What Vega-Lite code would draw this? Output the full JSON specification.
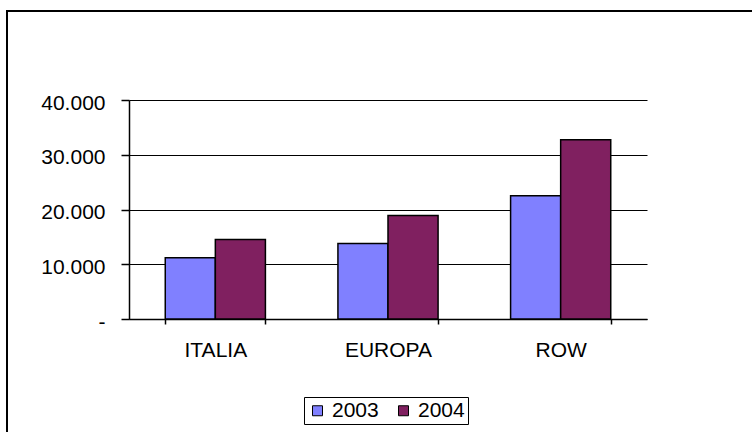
{
  "$schema": "https://vega.github.io/schema/vega-lite/v6.json",
  "width": 760,
  "height": 430,
  "autosize": "none",
  "padding": {"left": 7, "top": 11, "right": 0, "bottom": 0},
  "background": "white",
  "config": {
    "view": {"stroke": "black", "strokeWidth": 2, "fill": "white"},
    "font": "Liberation Sans"
  },
  "data": {
    "values": [
      {"region": "ITALIA", "year": "2003", "value": 11200},
      {"region": "ITALIA", "year": "2004", "value": 14500},
      {"region": "EUROPA", "year": "2003", "value": 13800},
      {"region": "EUROPA", "year": "2004", "value": 18900},
      {"region": "ROW", "year": "2003", "value": 22500},
      {"region": "ROW", "year": "2004", "value": 32750}
    ]
  },
  "mark": {"type": "bar", "stroke": "black", "strokeWidth": 1.5},
  "encoding": {
    "x": {
      "field": "region",
      "type": "nominal",
      "sort": ["ITALIA", "EUROPA", "ROW"],
      "scale": {"range": [122, 640], "paddingInner": 0.42, "paddingOuter": 0.21},
      "axis": {
        "title": null,
        "labelAngle": 0,
        "offset": -122,
        "tickBand": "extent",
        "tickSize": 5,
        "tickColor": "black",
        "tickWidth": 1.5,
        "domainColor": "black",
        "domainWidth": 1.5,
        "labelFontSize": 21,
        "labelColor": "black",
        "labelPadding": 15
      }
    },
    "xOffset": {
      "field": "year",
      "type": "nominal",
      "scale": {"paddingInner": 0, "paddingOuter": 0}
    },
    "y": {
      "field": "value",
      "type": "quantitative",
      "scale": {"domain": [0, 40000], "range": [308, 89], "nice": false},
      "axis": {
        "title": null,
        "values": [0, 10000, 20000, 30000, 40000],
        "offset": -122,
        "grid": true,
        "gridColor": "black",
        "gridOpacity": 1,
        "gridWidth": 1,
        "domainColor": "black",
        "domainWidth": 1.5,
        "tickColor": "black",
        "tickWidth": 1.5,
        "tickSize": 8,
        "labelFontSize": 21,
        "labelColor": "black",
        "labelPadding": 16,
        "labelOffset": 3,
        "labelExpr": "datum.value == 0 ? '-' : replace(format(datum.value, ','), ',', '.')"
      }
    },
    "color": {
      "field": "year",
      "type": "nominal",
      "scale": {"domain": ["2003", "2004"], "range": ["#8080ff", "#802060"]},
      "legend": {
        "orient": "none",
        "legendX": 297,
        "legendY": 386,
        "direction": "horizontal",
        "title": null,
        "strokeColor": "black",
        "fillColor": "white",
        "padding": 3,
        "symbolType": "square",
        "symbolSize": 100,
        "symbolStrokeColor": "black",
        "symbolStrokeWidth": 1,
        "symbolOpacity": 1,
        "labelFontSize": 21,
        "labelColor": "black",
        "labelOffset": 4,
        "columnPadding": 14
      }
    }
  }
}
